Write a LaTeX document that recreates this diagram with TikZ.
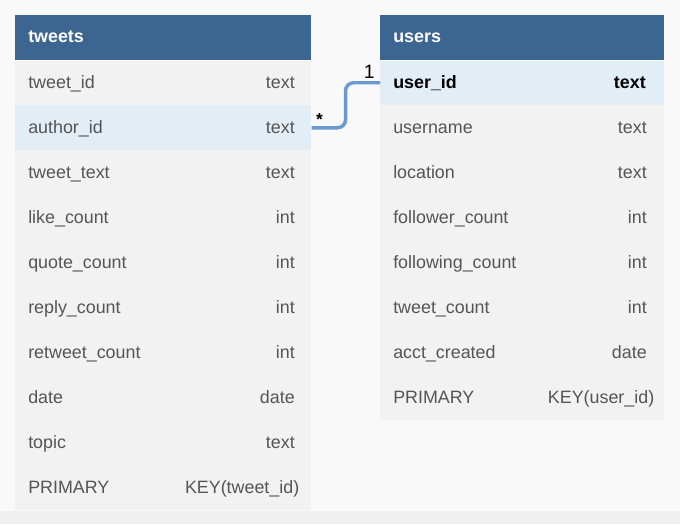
\documentclass[tikz,border=0pt]{standalone}
\usepackage{fontspec}
\setmainfont{Liberation Sans}
\definecolor{bg}{HTML}{F9F9F9}
\definecolor{strip}{HTML}{F0F0F0}
\definecolor{hdrblue}{HTML}{3D6592}
\definecolor{rowgray}{HTML}{F2F2F2}
\definecolor{rowhl}{HTML}{E2EDF5}
\definecolor{txtgray}{HTML}{555555}
\definecolor{linkblue}{HTML}{6A9BD0}
\begin{document}
\begin{tikzpicture}[x=0.75pt,y=-0.75pt,
  hdrbox/.style={fill=hdrblue, draw=none, anchor=north west, minimum height=33.75pt, inner sep=0pt},
  rowbox/.style={fill=rowgray, draw=none, anchor=north west, minimum height=33.75pt, inner sep=0pt},
  hlbox/.style={rowbox, fill=rowhl},
  lbl/.style={font=\fontsize{13.4}{15}\selectfont, text=txtgray, inner sep=0pt},
  boldlbl/.style={font=\fontsize{13.4}{15}\selectfont\bfseries, text=black, inner sep=0pt},
  hdrlbl/.style={font=\fontsize{13.4}{15}\selectfont\bfseries, text=white, inner sep=0pt, anchor=base west},
  conn/.style={draw=linkblue, line width=2.6pt, rounded corners=6pt},
  card/.style={font=\fontsize{14.5}{16}\selectfont, text=black, inner sep=0pt}
]
\useasboundingbox (0,0) rectangle (680,524);
\fill[bg] (0,0) rectangle (680,524);
\fill[strip] (0,511) rectangle (680,524);

% ---- tweets table ----
\node[hdrbox, minimum width=222pt] (th) at (15,15) {};
\node[hdrlbl] (thl) at (28,42.5) {tweets};
\foreach \i/\n/\t in {1/tweet\_id/text,3/tweet\_text/text,4/like\_count/int,5/quote\_count/int,6/reply\_count/int,7/retweet\_count/int,8/date/date,9/topic/text}{
  \node[rowbox, minimum width=222pt] (t\i) at (15,{60+45*(\i-1)}) {};
  \node[lbl, anchor=base west] (t\i n) at (28,{88.3+45*(\i-1)}) {\n};
  \node[lbl, anchor=base east] (t\i t) at (295,{88.3+45*(\i-1)}) {\t};
}
\node[hlbox, minimum width=222pt] (t2) at (15,105) {};
\node[lbl, anchor=base west] (t2n) at (28,133.3) {author\_id};
\node[lbl, anchor=base east] (t2t) at (295,133.3) {text};
\node[rowbox, minimum width=222pt] (t10) at (15,465) {};
\node[lbl, anchor=base west] (t10n) at (28,493.3) {PRIMARY};
\node[lbl, anchor=base east] (t10t) at (299.5,493.3) {KEY(tweet\_id)};
\draw[white, line width=0.6pt] (th.south west) -- (th.south east);

% ---- users table ----
\node[hdrbox, minimum width=213pt] (uh) at (380,15) {};
\node[hdrlbl] (uhl) at (393,42.5) {users};
\node[hlbox, minimum width=213pt] (u1) at (380,60) {};
\node[boldlbl, anchor=base west] (u1n) at (393,88.3) {user\_id};
\node[boldlbl, anchor=base east] (u1t) at (646,88.3) {text};
\foreach \i/\n/\t in {2/username/text,3/location/text,4/follower\_count/int,5/following\_count/int,6/tweet\_count/int,7/acct\_created/date}{
  \node[rowbox, minimum width=213pt] (u\i) at (380,{60+45*(\i-1)}) {};
  \node[lbl, anchor=base west] (u\i n) at (393,{88.3+45*(\i-1)}) {\n};
  \node[lbl, anchor=base east] (u\i t) at (647,{88.3+45*(\i-1)}) {\t};
}
\node[rowbox, minimum width=213pt] (u8) at (380,375) {};
\node[lbl, anchor=base west] (u8n) at (393,403.3) {PRIMARY};
\node[lbl, anchor=base east] (u8t) at (654.5,403.3) {KEY(user\_id)};
\draw[white, line width=0.6pt] (uh.south west) -- (uh.south east);

% ---- relation ----
\draw[conn] (t2.east) -- ++(34,0) |- (u1.west);
\node[card, anchor=base, font=\fontsize{13}{15}\selectfont\bfseries] (many) at (319.5,125) {*};
\node[card, anchor=base east] (one) at (375,78.5) {1};
\end{tikzpicture}
\end{document}
